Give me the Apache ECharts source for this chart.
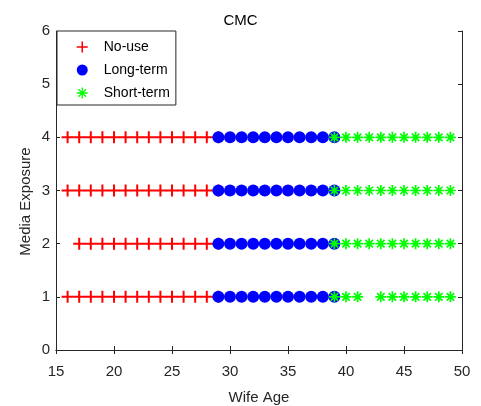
<!DOCTYPE html>
<html>
<head>
<meta charset="utf-8">
<script src="https://cdn.jsdelivr.net/npm/echarts@6/dist/echarts.min.js"></script>
<style>
html,body{margin:0;padding:0;background:#fff;}
#chart{width:481px;height:406px;}
</style>
</head>
<body>
<div id="chart"></div>
<script>
// Data (Wife Age vs Media Exposure)
const exposureLevels = [1, 2, 3, 4];
const noUseAges1 = [16,17,18,19,20,21,22,23,24,25,26,27,28,29];
const noUseAges2 = [17,18,19,20,21,22,23,24,25,26,27,28,29];
const noUseAges3 = [16,17,18,19,20,21,22,23,24,25,26,27,28,29];
const noUseAges4 = [16,17,18,19,20,21,22,23,24,25,26,27,28,29];
const longTermAges1 = [29,30,31,32,33,34,35,36,37,38,39];
const longTermAges2 = [29,30,31,32,33,34,35,36,37,38,39];
const longTermAges3 = [29,30,31,32,33,34,35,36,37,38,39];
const longTermAges4 = [29,30,31,32,33,34,35,36,37,38,39];
const shortTermAges1 = [39,40,41,43,44,45,46,47,48,49];
const shortTermAges2 = [39,40,41,42,43,44,45,46,47,48,49];
const shortTermAges3 = [39,40,41,42,43,44,45,46,47,48,49];
const shortTermAges4 = [39,40,41,42,43,44,45,46,47,48,49];
const seriesNames = ['No-use', 'Long-term', 'Short-term'];
const xTicks = [15, 20, 25, 30, 35, 40, 45, 50];
const yTicks = [0, 1, 2, 3, 4, 5, 6];

function toPoints(rows) {
  const pts = [];
  rows.forEach((ages, i) => ages.forEach(a => pts.push([a, exposureLevels[i]])));
  return pts;
}
const noUsePts = toPoints([noUseAges1, noUseAges2, noUseAges3, noUseAges4]);
const longTermPts = toPoints([longTermAges1, longTermAges2, longTermAges3, longTermAges4]);
const shortTermPts = toPoints([shortTermAges1, shortTermAges2, shortTermAges3, shortTermAges4]);

const plusPath = 'path://M0,5L10,5M5,0L5,10';
const starPath = 'path://M0,5L10,5M5,0L5,10M1.6,1.6L8.4,8.4M1.6,8.4L8.4,1.6';
const textColor = '#262626';
const font = 'Liberation Sans, Arial, sans-serif';

const chart = echarts.init(document.getElementById('chart'), null, {renderer: 'canvas'});
const axisCommon = {
  axisLine: {show: true, lineStyle: {color: textColor, width: 1}},
  axisTick: {show: true, inside: true, length: 4, lineStyle: {color: textColor}},
  splitLine: {show: false}
};
chart.setOption({
  animation: false,
  backgroundColor: '#fff',
  title: {
    text: 'CMC', left: 'center', top: 8,
    textStyle: {fontFamily: font, fontSize: 15, fontWeight: 'normal', color: '#000'}
  },
  grid: {left: 56, right: 19, top: 31, bottom: 56, containLabel: false, outerBoundsMode: 'none'},
  xAxis: [
    Object.assign({
      type: 'value', min: xTicks[0], max: xTicks[xTicks.length - 1], interval: 5,
      name: 'Wife Age', nameLocation: 'middle', nameGap: 40, nameMoveOverlap: false,
      nameTextStyle: {fontFamily: font, fontSize: 15, color: textColor},
      axisLabel: {margin: 14, fontFamily: font, fontSize: 15, color: textColor}
    }, axisCommon),
    Object.assign({
      type: 'value', position: 'top', min: xTicks[0], max: xTicks[xTicks.length - 1], interval: 5,
      axisLabel: {show: false}
    }, axisCommon)
  ],
  yAxis: [
    Object.assign({
      type: 'value', min: yTicks[0], max: yTicks[yTicks.length - 1], interval: 1,
      name: 'Media Exposure', nameLocation: 'middle', nameGap: 23, nameMoveOverlap: false,
      nameTextStyle: {fontFamily: font, fontSize: 15, color: textColor, padding: [0, 22, 0, 0]},
      axisLabel: {margin: 6, fontFamily: font, fontSize: 15, color: textColor}
    }, axisCommon),
    Object.assign({
      type: 'value', position: 'right', min: yTicks[0], max: yTicks[yTicks.length - 1], interval: 1,
      axisLabel: {show: false}
    }, axisCommon)
  ],
  legend: {
    orient: 'vertical', left: 57, top: 31,
    backgroundColor: '#fff', borderColor: textColor, borderWidth: 1, borderRadius: 0,
    padding: [8, 6, 4, 19], itemGap: 7, itemWidth: 11, itemHeight: 11,
    textStyle: {fontFamily: font, fontSize: 14, color: '#000', padding: [0, 0, 0, 11], lineHeight: 16},
    data: [
      {name: seriesNames[0], icon: plusPath, itemStyle: {color: '#ff0000', borderColor: '#ff0000', borderWidth: 1.5}},
      {name: seriesNames[1], icon: 'circle', itemStyle: {color: '#0000ff', borderWidth: 0}},
      {name: seriesNames[2], icon: starPath, itemStyle: {color: '#00ff00', borderColor: '#00ff00', borderWidth: 1.3}}
    ]
  },
  series: [
    {
      name: seriesNames[0], type: 'scatter', data: noUsePts,
      symbol: plusPath, symbolSize: 12,
      itemStyle: {color: '#ff0000', borderColor: '#ff0000', borderWidth: 2, opacity: 1}
    },
    {
      name: seriesNames[1], type: 'scatter', data: longTermPts,
      symbol: 'circle', symbolSize: 12,
      itemStyle: {color: '#0000ff', opacity: 1}
    },
    {
      name: seriesNames[2], type: 'scatter', data: shortTermPts,
      symbol: starPath, symbolSize: 11,
      itemStyle: {color: '#00ff00', borderColor: '#00ff00', borderWidth: 1.7, opacity: 1}
    }
  ]
});
</script>
</body>
</html>
